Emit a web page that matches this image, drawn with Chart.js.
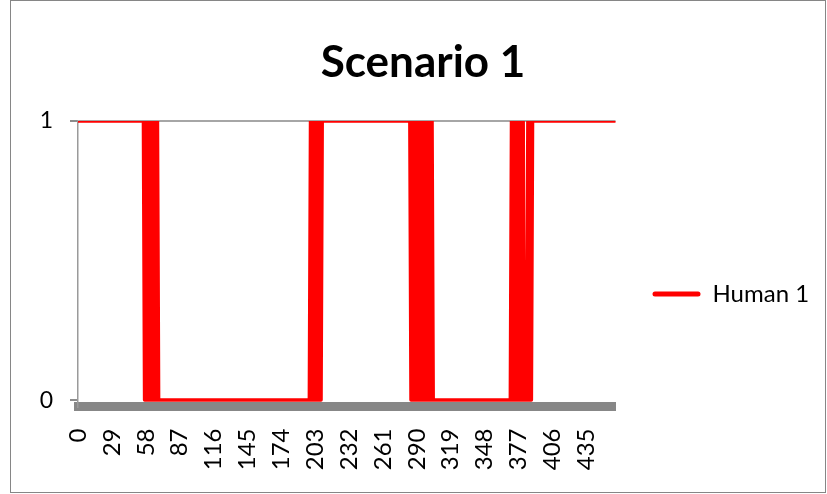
<!DOCTYPE html>
<html>
<head>
<meta charset="utf-8">
<script src="https://cdn.jsdelivr.net/npm/chart.js@4/dist/chart.umd.min.js"></script>
<style>
  html, body { margin: 0; padding: 0; background: #fff; }
  #wrap { position: relative; width: 827px; height: 494px; overflow: hidden; }
  #frame { position: absolute; left: 10px; top: 0; width: 814px; height: 491px; border: 1px solid #868686; }
  canvas { position: absolute; left: 0; top: 0; }
</style>
</head>
<body>
<div id="wrap">
  <div id="frame"></div>
  <canvas id="chart" width="827" height="494"></canvas>
</div>
<script>
// time steps 0..460 (category axis)
const categories = Array.from({ length: 461 }, (_, i) => i);

// labels Excel shows on the x axis (every 29th step)
const xTickLabels = ['0', '29', '58', '87', '116', '145', '174', '203', '232', '261', '290', '319', '348', '377', '406', '435'];
const yTickValues = [0, 1];

const seriesName = 'Human 1';
// state per time step, 10 steps per group
const human1States =
  '1111111111 1111111111 1111111111 1111111111 1111111111 1111111010 1010101010 0000000000 ' +
  '0000000000 0000000000 0000000000 0000000000 0000000000 0000000000 0000000000 0000000000 ' +
  '0000000000 0000000000 0000000000 0000000001 0101010101 1111111111 1111111111 1111111111 ' +
  '1111111111 1111111111 1111111111 1111111111 1111101010 1010101001 0101000000 0000000000 ' +
  '0000000000 0000000000 0000000000 0000000000 0000000000 0101010101 0100010101 1111111111 ' +
  '1111111111 1111111111 1111111111 1111111111 1111111111 1111111111 1';
const human1 = human1States.replace(/\s/g, '').split('').map(Number);

const lineColor = '#ff0000';

Chart.defaults.font.family = 'Lato';
Chart.defaults.color = '#000';

// Excel draws the category labels rotated to read upwards
const upTickLabels = {
  id: 'upTickLabels',
  afterDraw(chart) {
    const { ctx } = chart;
    const x = chart.scales.x;
    ctx.save();
    ctx.font = '24px Lato';
    ctx.fillStyle = '#000';
    ctx.textAlign = 'right';
    ctx.textBaseline = 'middle';
    xTickLabels.forEach(label => {
      const px = x.getPixelForValue(categories.indexOf(Number(label)));
      ctx.save();
      ctx.translate(px, x.top);
      ctx.rotate(-Math.PI / 2);
      ctx.fillText(label, -22, 0);
      ctx.restore();
    });
    ctx.restore();
  }
};

new Chart(document.getElementById('chart'), {
  type: 'line',
  data: {
    labels: categories,
    datasets: [{
      label: seriesName,
      data: human1,
      borderColor: lineColor,
      backgroundColor: lineColor,
      borderWidth: 3.5,
      borderJoinStyle: 'round',
      pointRadius: 0,
      tension: 0,
      fill: false
    }]
  },
  options: {
    responsive: false,
    animation: false,
    devicePixelRatio: 1,
    layout: { padding: { left: 38, right: 19, top: 0, bottom: 26 } },
    plugins: {
      title: {
        display: true,
        text: 'Scenario 1',
        color: '#000',
        font: { size: 44, weight: 'bold', family: 'Lato' },
        padding: { top: 36, bottom: 32.2 }
      },
      legend: {
        position: 'right',
        // empty legend title only pushes the entry down to where Excel put it
        title: { display: true, text: '', font: { size: 12 }, padding: { top: 105.6, bottom: 0 } },
        labels: {
          boxWidth: 48,
          boxHeight: 5,
          padding: 37,
          font: { size: 24 },
          color: '#000',
          generateLabels: () => [{
            text: seriesName,
            fillStyle: lineColor,
            strokeStyle: lineColor,
            lineWidth: 0,
            borderRadius: 2.5,
            hidden: false,
            datasetIndex: 0
          }]
        }
      },
      tooltip: { enabled: false }
    },
    scales: {
      x: {
        type: 'category',
        offset: false,
        ticks: { display: false },
        grid: { display: false },
        border: { color: '#878787', width: 9 },
        afterFit: s => { s.height = 61.5; }
      },
      y: {
        min: -0.023,
        max: 1,
        afterBuildTicks: s => { s.ticks = yTickValues.map(v => ({ value: v })); },
        afterFit: s => { s.width = 40; },
        grid: {
          color: c => (c.tick && c.tick.value === 1 ? '#a6a6a6' : 'rgba(0,0,0,0)'),
          tickColor: '#8c8c8c',
          tickLength: 8,
          lineWidth: 2
        },
        border: { color: '#9a9a9a', width: 1.5 },
        ticks: { padding: 17, font: { size: 23 }, color: '#000' }
      }
    }
  },
  plugins: [upTickLabels]
});
</script>
</body>
</html>
